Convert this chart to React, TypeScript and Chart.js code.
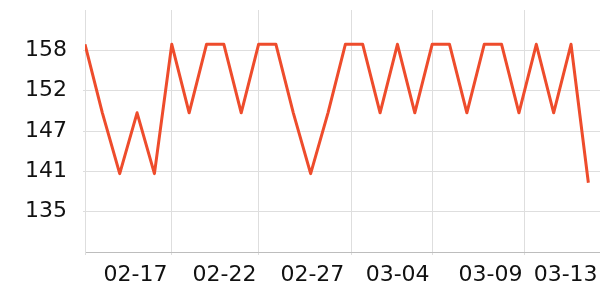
import React, { useEffect, useRef } from 'react';
import { Chart, registerables } from 'chart.js';

Chart.register(...registerables);

// Daily values, index 0 = 02-12
const dayIndex = [0, 1, 2, 3, 4, 5, 6, 7, 8, 9, 10, 11, 12, 13, 14, 15, 16, 17, 18, 19, 20, 21, 22, 23, 24, 25, 26, 27, 28, 29];
const values = [
  159.1, 149.3, 140.6, 149.3, 140.6, 159.1, 149.3, 159.1, 159.1, 149.3,
  159.1, 159.1, 149.3, 140.6, 149.3, 159.1, 159.1, 149.3, 159.1, 149.3,
  159.1, 159.1, 149.3, 159.1, 159.1, 149.3, 159.1, 149.3, 159.1, 139.3,
];

const xTickLabels = ['02-17', '02-22', '02-27', '03-04', '03-09', '03-13'];
const xLabelPositions = [2.91, 8.04, 13.1, 18.01, 23.36, 27.69];
const xGridPositions = [0, 5, 10, 15.36, 20, 25.32];
const xMin = 0;
const xMax = 29.67;

const yTickValues = [135.17, 140.93, 146.7, 152.47, 158.23];
const yTickLabels = ['135', '141', '147', '152', '158'];
const yMin = 129.4;
const yMax = 164.0;

const LINE_COLOR = '#ee4c2c';
const GRID_COLOR = '#dedede';
const AXIS_COLOR = '#bdbdbd';
const FONT = 'DejaVu Sans';

export default function App() {
  const ref = useRef<HTMLCanvasElement | null>(null);

  useEffect(() => {
    if (!ref.current) return;
    const xTicks: any[] = [
      ...xGridPositions.map((v) => ({ value: v, kind: 'grid', text: '' })),
      ...xLabelPositions.map((v, i) => ({ value: v, kind: 'label', text: xTickLabels[i] })),
    ].sort((a, b) => a.value - b.value);

    const chart = new Chart(ref.current, {
      type: 'line',
      data: {
        datasets: [
          {
            data: dayIndex.map((d, i) => ({ x: d, y: values[i] })),
            borderColor: LINE_COLOR,
            borderWidth: 3,
            borderJoinStyle: 'round',
            pointRadius: 0,
            fill: false,
            tension: 0,
          },
        ],
      },
      options: {
        animation: false,
        responsive: true,
        maintainAspectRatio: false,
        layout: { padding: { top: 10, left: 0, right: 0, bottom: 0 } },
        plugins: { legend: { display: false }, tooltip: { enabled: false } },
        scales: {
          x: {
            type: 'linear',
            min: xMin,
            max: xMax,
            afterBuildTicks: (s: any) => {
              s.ticks = xTicks.map((t) => ({ ...t }));
            },
            afterFit: (s: any) => {
              s.height = 48;
              s.paddingLeft = 0;
              s.paddingRight = 0;
            },
            ticks: {
              autoSkip: false,
              maxRotation: 0,
              minRotation: 0,
              padding: 7,
              color: '#111',
              font: { family: FONT, size: 22 },
              callback: (_v: any, i: number, ticks: any[]) => ticks[i].text || '',
            },
            grid: {
              color: (ctx: any) => (ctx.tick && ctx.tick.kind === 'grid' ? GRID_COLOR : 'rgba(0,0,0,0)'),
              tickColor: (ctx: any) => (ctx.tick && ctx.tick.kind === 'grid' ? GRID_COLOR : 'rgba(0,0,0,0)'),
              tickLength: 3,
            },
            border: { color: AXIS_COLOR, width: 1 },
          },
          y: {
            type: 'linear',
            min: yMin,
            max: yMax,
            afterBuildTicks: (s: any) => {
              s.ticks = yTickValues.map((v) => ({ value: v }));
            },
            afterFit: (s: any) => {
              s.width = 85;
              s.paddingTop = 0;
              s.paddingBottom = 0;
            },
            ticks: {
              padding: 16,
              color: '#111',
              font: { family: FONT, size: 22 },
              callback: (_v: any, i: number) => yTickLabels[i],
            },
            grid: { color: GRID_COLOR, tickLength: 2, tickColor: GRID_COLOR },
            border: { color: GRID_COLOR, width: 1 },
          },
        },
      },
    });
    return () => chart.destroy();
  }, []);

  return (
    <div style={{ position: 'absolute', left: 0, top: 0, width: 600, height: 300 }}>
      <canvas ref={ref} />
    </div>
  );
}
